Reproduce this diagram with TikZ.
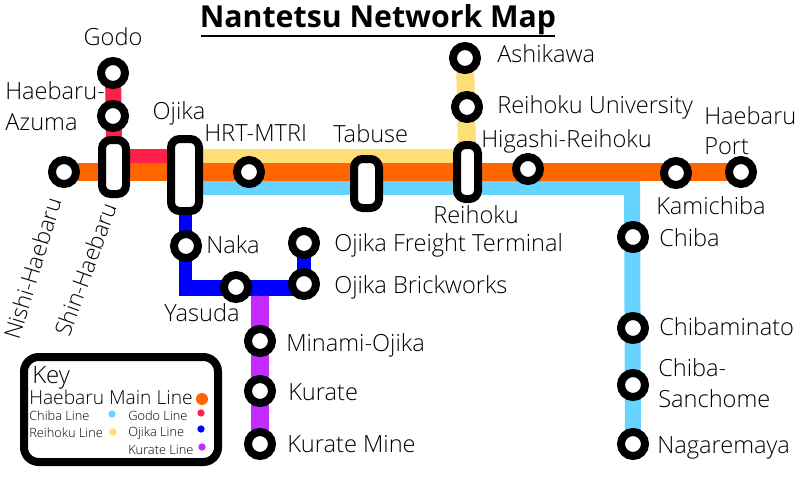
\documentclass[tikz,border=0pt]{standalone}
\usepackage{fontspec}
\setmainfont{Open Sans}[UprightFont={* Light},BoldFont={* Bold}]
\definecolor{cOrange}{HTML}{FF6600}
\definecolor{cYellow}{HTML}{FFDD77}
\definecolor{cCyan}{HTML}{66D4FF}
\definecolor{cRed}{HTML}{FF1F48}
\definecolor{cBlue}{HTML}{0000FF}
\definecolor{cPurple}{HTML}{C32BFF}
\pgfdeclarelayer{tracks}
\pgfsetlayers{tracks,main}
\begin{document}
\begin{tikzpicture}[x=0.75pt,y=-0.75pt,
  ring/.style={circle,draw=black,fill=white,line width=6pt,minimum size=18pt,inner sep=0pt},
  capsule/.style={rounded corners=6.5pt,draw=black,fill=white,line width=6pt,inner sep=0pt},
  lbl/.style={anchor=mid west,inner sep=0pt,font=\fontsize{17.7}{20}\selectfont,text=black},
  ctr/.style={anchor=mid,inner sep=0pt,font=\fontsize{17.7}{20}\selectfont,text=black},
  keyS/.style={anchor=mid west,inner sep=0pt,font=\fontsize{9.6}{11}\selectfont,text=black},
  dotL/.style={circle,inner sep=0pt,minimum size=9pt},
  dotS/.style={circle,inner sep=0pt,minimum size=5.5pt},
  track/.style={line width=#1,line cap=butt}]
\useasboundingbox (0,0) rectangle (800,480);
% named points
\coordinate (yw) at (203,156);
\coordinate (yc) at (467,156);
\coordinate (yt) at (467,149);
\coordinate (cw) at (203,188);
\coordinate (cc) at (640,188);
\coordinate (cv) at (632,181);
\coordinate (rw) at (130,156);
\coordinate (re) at (167,156);
\coordinate (rb) at (114,137);
\coordinate (bt) at (185.5,215);
\coordinate (bl) at (185.5,288);
\coordinate (bs) at (179,288);
\coordinate (br) at (304,288);
\coordinate (pu) at (260,296);
% stations
\node[ring] (godo) at (113,73) {};
\node[ring] (azuma) at (113,116) {};
\node[ring] (ashi) at (465,58) {};
\node[ring] (univ) at (467,107) {};
\node[ring] (chiba) at (633,237) {};
\node[ring] (nagare) at (633,444) {};
\node[ring] (mine) at (260,444) {};
\node[ring] (freight) at (304,243) {};
\node[ring] (brick) at (304,284) {};
\node[ring] (nishi) at (64,172) {};
\node[ring] (hrt) at (249,172) {};
\node[ring] (higashi) at (528,169) {};
\node[ring] (kami) at (676,173) {};
\node[ring] (port) at (741,172) {};
\node[ring] (minato) at (633,328) {};
\node[ring] (sanch) at (633,385) {};
\node[ring] (naka) at (186,246) {};
\node[ring] (yasuda) at (236,287) {};
\node[ring] (minami) at (260,341) {};
\node[ring] (kurate) at (260,391) {};
\draw[capsule] (102,140) rectangle (126,194);
\draw[capsule] (171,139) rectangle (199,211);
\draw[capsule] (354,159) rectangle (379,208);
\draw[capsule] (457,145) rectangle (478,199);
% tracks
\begin{pgfonlayer}{tracks}
\draw[track=10.5pt,cYellow] (yw) -- (yc);
\draw[track=13.5pt,cYellow] (yt) -- (ashi.center);
\draw[track=10.5pt,cCyan] (cw) -- (cc);
\draw[track=12pt,cCyan] (cv) -- (nagare.center);
\draw[track=13.5pt,cOrange] (nishi.center) -- (port.center);
\draw[track=10.5pt,cRed] (rw) -- (re);
\draw[track=12pt,cRed] (godo.center) -- (rb);
\draw[track=10pt,cBlue] (bt) -- (bl);
\draw[track=12pt,cBlue] (bs) -- (br);
\draw[track=11pt,cBlue] (freight.center) -- (brick.center);
\draw[track=13.5pt,cPurple] (pu) -- (mine.center);
\end{pgfonlayer}
% labels
\node[ctr] (lgodo) at (113,42) {Godo};
\node[lbl] (lha) at (5,96) {Haebaru-};
\node[lbl] (laz) at (5,127) {Azuma};
\node[ctr] (lojika) at (179,116) {Ojika};
\node[lbl] (lhrt) at (204,138) {HRT-MTRI};
\node[lbl] (ltab) at (333,139) {Tabuse};
\node[lbl] (lashi) at (497,59) {Ashikawa};
\node[lbl] (luniv) at (497,110) {Reihoku University};
\node[lbl] (lhig) at (481,144) {Higashi-Reihoku};
\node[lbl] (lhp) at (704,121) {Haebaru};
\node[lbl] (lpt) at (704,151) {Port};
\node[lbl] (lrei) at (433,220) {Reihoku};
\node[lbl] (lkami) at (656,211) {Kamichiba};
\node[lbl] (lchi) at (659,243) {Chiba};
\node[lbl] (lnaka) at (206,250) {Naka};
\node[lbl] (lfr) at (334,248) {Ojika Freight Terminal};
\node[lbl] (lbr) at (334,290) {Ojika Brickworks};
\node[lbl] (lya) at (164,318) {Yasuda};
\node[lbl] (lmi) at (286,348) {Minami-Ojika};
\node[lbl] (lku) at (288,397) {Kurate};
\node[lbl] (lkm) at (287,449) {Kurate Mine};
\node[lbl] (lmin) at (659,332) {Chibaminato};
\node[lbl] (lsa) at (658,373) {Chiba-};
\node[lbl] (lsb) at (658,404) {Sanchome};
\node[lbl] (lna) at (657,450) {Nagaremaya};
\node[ctr,rotate=73,font=\fontsize{17}{20}\selectfont] (lnh) at (37,270) {Nishi-Haebaru};
\node[ctr,rotate=70,font=\fontsize{17}{20}\selectfont] (lsh) at (90,271) {Shin-Haebaru};
% title
\node[anchor=mid,inner sep=0pt,font=\fontsize{22.7}{26}\bfseries\selectfont] (title) at (378,24) {Nantetsu Network Map};
\draw[black,line width=1.8pt] (201,36) coordinate (ua) -- (555,36) coordinate (ub);
% key
\draw[rounded corners=11pt,draw=black,fill=white,line width=6pt] (24,357) rectangle (218,462);
\node[anchor=mid west,inner sep=0pt,font=\fontsize{18}{20}\selectfont,text=black] (kk) at (32,380) {Key};
\node[anchor=mid west,inner sep=0pt,font=\fontsize{14.4}{16}\selectfont,text=black] (km) at (29,401) {Haebaru Main Line};
\node[keyS] (k1) at (29,417) {Chiba Line};
\node[keyS] (k2) at (29,434) {Reihoku Line};
\node[keyS] (k3) at (128,417) {Godo Line};
\node[keyS] (k4) at (128,433) {Ojika Line};
\node[keyS] (k5) at (128,451) {Kurate Line};
\node[dotL,fill=cOrange] (d0) at (202,399) {};
\node[dotS,fill=cCyan] (d1) at (112,414) {};
\node[dotS,fill=cYellow] (d2) at (113,432) {};
\node[dotS,fill=cRed] (d3) at (201,413) {};
\node[dotS,fill=cBlue] (d4) at (201,429) {};
\node[dotS,fill=cPurple] (d5) at (202,447) {};
\end{tikzpicture}
\end{document}
